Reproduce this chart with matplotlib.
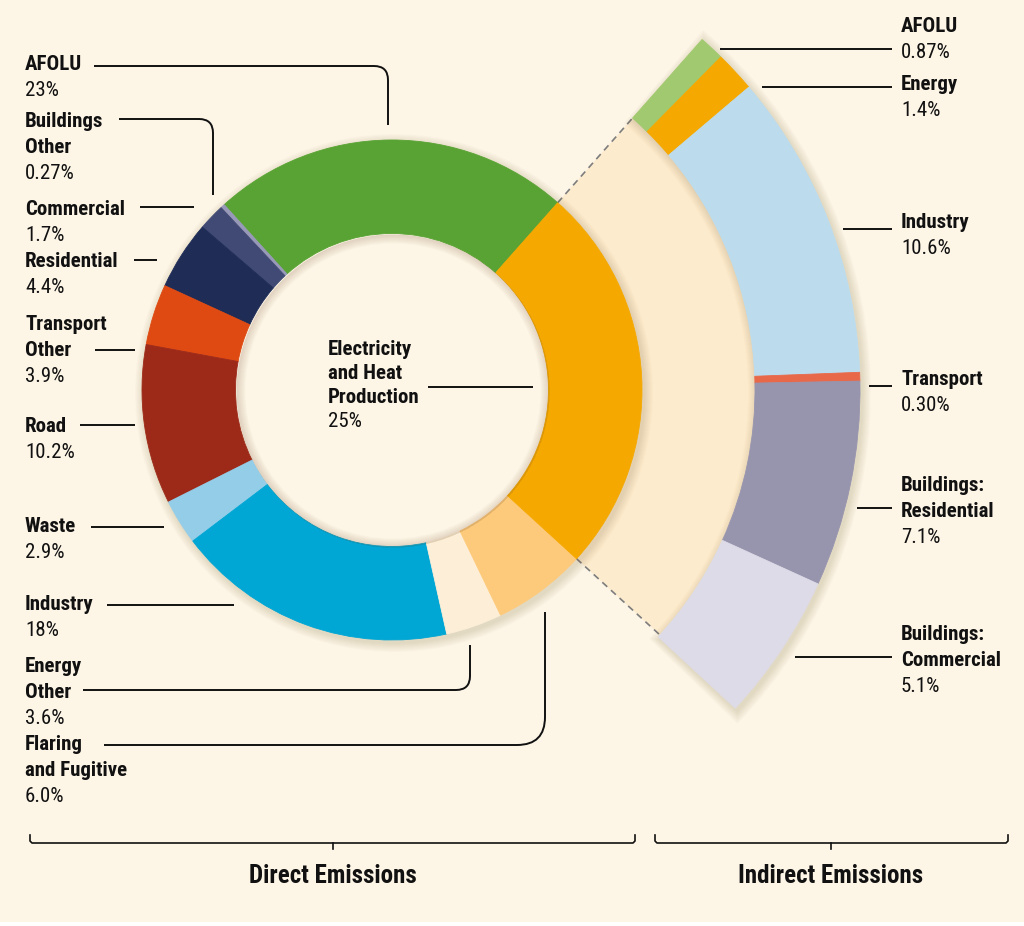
import numpy as np
import matplotlib
matplotlib.use("Agg")
import matplotlib.pyplot as plt
from matplotlib.patches import Wedge, Rectangle, PathPatch
from matplotlib.path import Path

# ---------------- data ----------------
direct_labels = ["AFOLU", "Buildings\nOther", "Commercial", "Residential",
                 "Transport\nOther", "Road", "Waste", "Industry",
                 "Energy\nOther", "Flaring\nand Fugitive",
                 "Electricity\nand Heat\nProduction"]
direct_pct = [23, 0.27, 1.7, 4.4, 3.9, 10.2, 2.9, 18, 3.6, 6.0, 25]
direct_pct_text = ["23%", "0.27%", "1.7%", "4.4%", "3.9%", "10.2%", "2.9%",
                   "18%", "3.6%", "6.0%", "25%"]
direct_colors = ["#58a333", "#9898b8", "#414a74", "#1f2c56", "#de4a12",
                 "#9d2a19", "#94cde8", "#00a6d4", "#fdefd7", "#fdca7b",
                 "#f5a800"]

indirect_labels = ["AFOLU", "Energy", "Industry", "Transport",
                   "Buildings:\nResidential", "Buildings:\nCommercial"]
indirect_pct = [0.87, 1.4, 10.6, 0.30, 7.1, 5.1]
indirect_pct_text = ["0.87%", "1.4%", "10.6%", "0.30%", "7.1%", "5.1%"]
indirect_colors = ["#a1c96f", "#f5a800", "#bcdcee", "#e8694a", "#9794ae",
                   "#dddbe7"]

group_titles = ["Direct Emissions", "Indirect Emissions"]

# ---------------- style / layout ----------------
W, H = 1024, 926
BG = "#fdf5e6"
FAN = "#fdebcd"
SHADOW = "#7a5a30"
CX, CY = 392, H - 390
R_OUT, R_IN = 250, 156.5
R2_OUT, R2_IN = 468, 363
START = 48.5
FONT = ["Roboto Condensed", "DejaVu Sans Condensed", "Roboto", "DejaVu Sans"]
FS = 15
LW = 1.4

plt.rcParams["font.family"] = FONT
plt.rcParams["font.stretch"] = "condensed"

fig = plt.figure(figsize=(W / 100, H / 100), dpi=100)
fig.patch.set_facecolor("white")
ax = fig.add_axes([0, 0, 1, 1])
ax.add_patch(Rectangle((0, 4), W, H - 4, facecolor=BG, edgecolor="none", zorder=0))


def Y(py):
    return H - py


# fan (expansion of electricity slice)
elec_frac = direct_pct[-1] / sum(direct_pct)
ax.pie([elec_frac], normalize=False, colors=[FAN], startangle=START,
       counterclock=False, radius=R2_IN, center=(CX, CY), frame=True,
       wedgeprops=dict(width=R2_IN - R_OUT, linewidth=0, zorder=1))

# dashed edges of the fan
for ang in (START, START - elec_frac * 360):
    a = np.deg2rad(ang)
    ax.plot([CX + R_OUT * np.cos(a), CX + R2_IN * np.cos(a)],
            [CY + R_OUT * np.sin(a), CY + R2_IN * np.sin(a)],
            ls=(0, (4, 3)), color="#7d7d7d", lw=1.2, zorder=1.5)

# shadows
ind_span = sum(indirect_pct) / 100 * 360
for k in range(1, 10):
    ax.add_patch(Wedge((CX + 2, CY - 3), R_OUT + k, 0, 360, width=k + 6,
                       facecolor=SHADOW, edgecolor="none", alpha=0.02, zorder=2))
    dth = np.rad2deg(k / R2_OUT)
    ax.add_patch(Wedge((CX + 2, CY - 3), R2_OUT + k,
                       START - ind_span - dth, START + dth,
                       width=(R2_OUT - R2_IN) + 2 * k,
                       facecolor=SHADOW, edgecolor="none", alpha=0.02, zorder=2))
    ax.add_patch(Wedge((CX + 1, CY - 1), R_IN, 0, 360, width=k,
                       facecolor=SHADOW, edgecolor="none", alpha=0.022, zorder=4))

# direct donut
wd, _ = ax.pie(direct_pct, colors=direct_colors, startangle=START,
               counterclock=True, radius=R_OUT, center=(CX, CY), frame=True,
               wedgeprops=dict(width=R_OUT - R_IN, linewidth=0.6, zorder=3))
for w in wd:
    w.set_edgecolor(w.get_facecolor())

# indirect ring
wi, _ = ax.pie([v / 100 for v in indirect_pct], normalize=False,
               colors=indirect_colors, startangle=START, counterclock=False,
               radius=R2_OUT, center=(CX, CY), frame=True,
               wedgeprops=dict(width=R2_OUT - R2_IN, linewidth=0.6, zorder=3))
for w in wi:
    w.set_edgecolor(w.get_facecolor())


# ---------------- labels ----------------
def put_label(x, base, name, pct, step=26):
    lines = name.split("\n")
    for i, ln in enumerate(lines):
        ax.text(x, Y(base + i * step), ln, fontsize=FS, fontweight="bold",
                va="baseline", ha="left", color="#111111", zorder=6)
    ax.text(x, Y(base + len(lines) * step), pct, fontsize=FS,
            va="baseline", ha="left", color="#111111", zorder=6)


left_base = [70, 127, 215, 267, 330, 432, 532, 610, 672, 750]
for name, pct, b in zip(direct_labels[:-1], direct_pct_text[:-1], left_base):
    put_label(25, b, name, pct)
put_label(328, 355, direct_labels[-1], direct_pct_text[-1], step=24)

right_base = [32, 90, 228, 385, 491, 640]
for name, pct, b in zip(indirect_labels, indirect_pct_text, right_base):
    put_label(901, b, name, pct)


# leader lines
def leader(pts, r=14):
    pts = [(x, Y(y)) for x, y in pts]
    if len(pts) == 2:
        ax.plot([pts[0][0], pts[1][0]], [pts[0][1], pts[1][1]],
                color="#111111", lw=LW, zorder=6, solid_capstyle="butt")
        return
    (x0, y0), (xc, yc), (x1, y1) = pts
    sx = np.sign(xc - x0)
    sy = np.sign(y1 - yc)
    verts = [(x0, y0), (xc - sx * r, yc), (xc, yc), (xc, yc + sy * r), (x1, y1)]
    codes = [Path.MOVETO, Path.LINETO, Path.CURVE3, Path.CURVE3, Path.LINETO]
    ax.add_patch(PathPatch(Path(verts, codes), fill=False, edgecolor="#111111",
                           lw=LW, zorder=6))


leader([(94, 66), (388, 66), (388, 125)])
leader([(119, 119), (213, 119), (213, 195)])
leader([(140, 207), (194, 207)])
leader([(134, 260), (157, 260)])
leader([(95, 350), (135, 350)])
leader([(80, 425), (135, 425)])
leader([(91, 527), (164, 527)])
leader([(107, 605), (234, 605)])
leader([(83, 690), (470, 690), (470, 645)])
leader([(104, 745), (545, 745), (545, 612)], r=28)
leader([(428, 387), (533, 387)])
leader([(720, 49), (892, 49)])
leader([(762, 87), (892, 87)])
leader([(843, 229), (892, 229)])
leader([(869, 386), (892, 386)])
leader([(857, 508), (892, 508)])
leader([(795, 657), (892, 657)])


# brackets
def bracket(x0, x1, xm, y=843):
    xs = [x0, x0, x0 + 2, x1 - 2, x1, x1]
    ys = [835, 841, y, y, 841, 835]
    ax.plot(xs, [Y(v) for v in ys], color="#111111", lw=1.2, zorder=6)
    ax.plot([xm, xm], [Y(y), Y(849)], color="#111111", lw=1.2, zorder=6)


bracket(30, 635, 333)
bracket(655, 1008, 831)
ax.text(333, Y(883), group_titles[0], fontsize=18, fontweight="bold",
        ha="center", va="baseline", color="#111111")
ax.text(831, Y(883), group_titles[1], fontsize=18, fontweight="bold",
        ha="center", va="baseline", color="#111111")

ax.set_xlim(0, W)
ax.set_ylim(0, H)
ax.set_aspect("equal")
ax.axis("off")
fig.savefig("out.png", dpi=100, facecolor=fig.get_facecolor())
